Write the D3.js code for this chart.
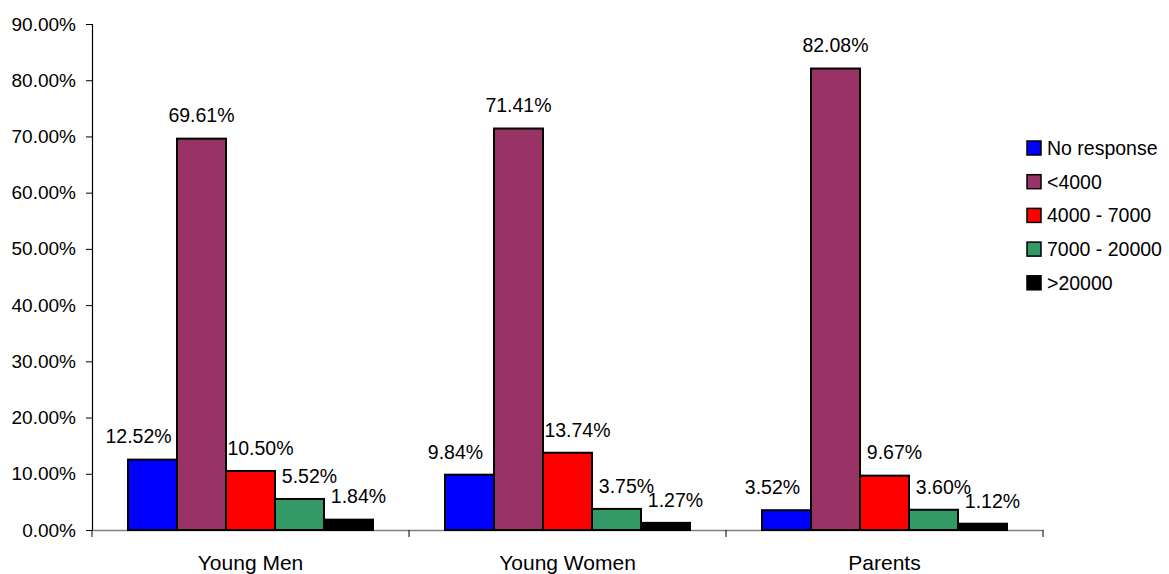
<!DOCTYPE html>
<html>
<head>
<meta charset="utf-8">
<script src="https://cdn.jsdelivr.net/npm/d3@7"></script>
<style>
  html, body { margin: 0; padding: 0; background: #fff; }
  svg { display: block; font-family: "Liberation Sans", Arial, sans-serif; }
</style>
</head>
<body>
<svg id="chart" width="1169" height="574"></svg>
<script>
const categories = ["Young Men", "Young Women", "Parents"];
const seriesNames = ["No response", "<4000", "4000 - 7000", "7000 - 20000", ">20000"];
const seriesColors = ["#0000FF", "#993366", "#FF0000", "#339966", "#000000"];
const noResponse = [0.1252, 0.0984, 0.0352];
const under4000 = [0.6961, 0.7141, 0.8208];
const from4000to7000 = [0.1050, 0.1374, 0.0967];
const from7000to20000 = [0.0552, 0.0375, 0.0360];
const over20000 = [0.0184, 0.0127, 0.0112];
const yTicks = [0, 0.1, 0.2, 0.3, 0.4, 0.5, 0.6, 0.7, 0.8, 0.9];

const seriesValues = [noResponse, under4000, from4000to7000, from7000to20000, over20000];

const svg = d3.select("#chart");
const fmt = d3.format(".2%");
const fontSize = 19;

const x0 = d3.scaleBand().domain(categories).range([92, 1043]).paddingInner(0).paddingOuter(0);
const x1 = d3.scaleBand().domain(seriesNames).range([0, x0.bandwidth()]).paddingInner(0).paddingOuter(0.735);
const y = d3.scaleLinear().domain([0, 0.9]).range([530, 24]);

// Y axis
const yAxis = d3.axisLeft(y).tickValues(yTicks).tickFormat(fmt).tickSize(6).tickPadding(10);
const gy = svg.append("g").attr("transform", "translate(92,0)").call(yAxis);
gy.select(".domain").attr("stroke", "#000").attr("stroke-width", 1.2);
gy.selectAll(".tick line").attr("stroke", "#000");
gy.selectAll(".tick text").attr("font-size", fontSize).attr("fill", "#000").attr("font-family", "Liberation Sans, Arial, sans-serif");

// X axis
const xAxis = d3.axisBottom(x0).tickSize(0).tickPadding(25);
const gx = svg.append("g").attr("transform", "translate(0,530)").call(xAxis);
gx.select(".domain").attr("stroke", "#808080").attr("stroke-width", 1.5);
gx.selectAll(".tick text").attr("font-size", 21).attr("fill", "#000").attr("font-family", "Liberation Sans, Arial, sans-serif");
// category boundary ticks
const bounds = categories.map(c => x0(c)).concat([x0(categories[categories.length - 1]) + x0.bandwidth()]);
svg.append("g").selectAll("line").data(bounds).join("line")
  .attr("x1", d => d).attr("x2", d => d)
  .attr("y1", 530).attr("y2", 537)
  .attr("stroke", "#000").attr("stroke-width", 1);

// Bars
const groups = svg.append("g").selectAll("g").data(categories).join("g")
  .attr("transform", c => `translate(${x0(c)},0)`);

groups.each(function(c, ci) {
  const g = d3.select(this);
  const vals = seriesValues.map(arr => arr[ci]);
  const maxIdx = d3.maxIndex(vals);
  seriesNames.forEach((s, si) => {
    const v = vals[si];
    g.append("rect")
      .attr("x", x1(s))
      .attr("y", y(v))
      .attr("width", x1.bandwidth())
      .attr("height", y(0) - y(v))
      .attr("fill", seriesColors[si])
      .attr("stroke", "#000")
      .attr("stroke-width", 2);
    const dx = si < maxIdx ? -14 : (si > maxIdx ? 10 : 0);
    g.append("text")
      .attr("x", x1(s) + x1.bandwidth() / 2 + dx)
      .attr("y", y(v) - 23)
      .attr("dy", "0.35em")
      .attr("text-anchor", "middle")
      .attr("font-size", fontSize + 0.5)
      .attr("fill", "#000")
      .text(fmt(v));
  });
});

// Legend
const legend = svg.append("g").attr("transform", "translate(1027,148)");
const items = legend.selectAll("g").data(seriesNames).join("g")
  .attr("transform", (d, i) => `translate(0,${i * 33.7})`);
items.append("rect")
  .attr("x", 0).attr("y", -7)
  .attr("width", 14).attr("height", 14)
  .attr("fill", (d, i) => seriesColors[i])
  .attr("stroke", "#000").attr("stroke-width", 1.5);
items.append("text")
  .attr("x", 20).attr("y", 0).attr("dy", "0.35em")
  .attr("font-size", fontSize + 0.5)
  .attr("fill", "#000")
  .text(d => d);
</script>
</body>
</html>
